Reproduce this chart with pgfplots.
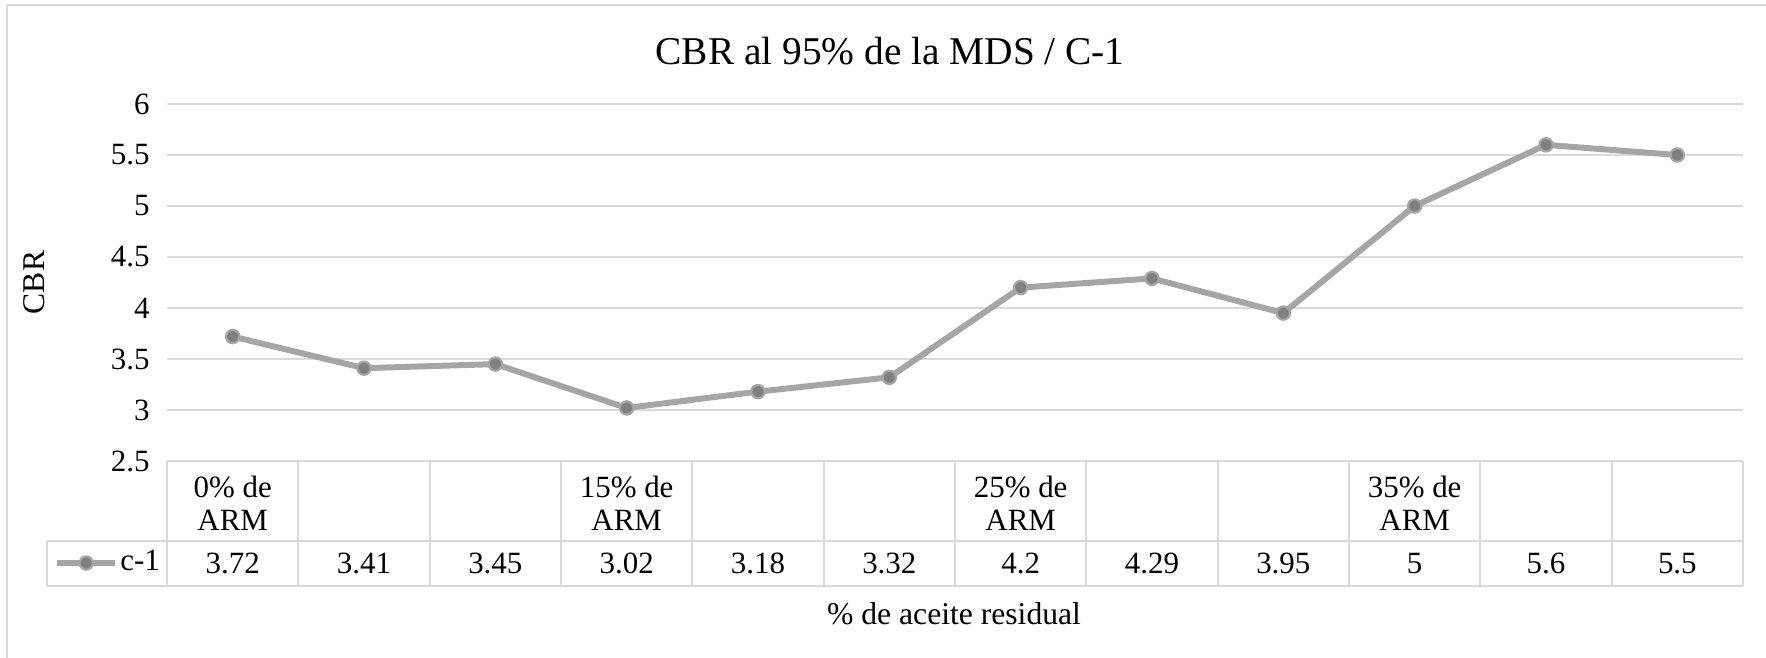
\documentclass[border=0pt]{standalone}
\usepackage{fontspec}
\setmainfont{Liberation Serif}
\usepackage{pgfplots}
\pgfplotsset{compat=1.18}
\definecolor{linegray}{HTML}{A5A5A5}
\definecolor{markgray}{HTML}{808080}
\definecolor{gridgray}{HTML}{D9D9D9}
\begin{document}
\begin{tikzpicture}[x=1mm,y=1mm]
\useasboundingbox (-16.7,-19.7) rectangle (159.9,46.1);
\draw[gridgray, line width=0.6pt] (-16.0,-19.7) -- (-16.0,45.6) -- (159.9,45.6);
\begin{axis}[
  at={(0,0)}, anchor=south west,
  scale only axis, width=157.6mm, height=35.7mm,
  xmin=-0.5, xmax=11.5, ymin=2.5, ymax=6,
  ytick={2.5,3,3.5,4,4.5,5,5.5,6},
  xtick=\empty,
  ymajorgrids, grid style={gridgray, line width=0.6pt},
  axis line style={draw=none},
  major tick length=0pt,
  clip=false,
  yticklabel style={font=\fontsize{8.8}{10}\selectfont, /pgf/number format/assume math mode=true, xshift=-0.5mm},
  ylabel={CBR},
  ylabel style={at={(axis description cs:-0.0844,0.5)}, anchor=center, font=\fontsize{9}{10}\selectfont},
  xlabel={\% de aceite residual},
  xlabel style={at={(axis description cs:0.4994,-0.4286)}, anchor=center, font=\fontsize{9}{10}\selectfont},
  title={CBR al 95\% de la MDS / C-1},
  every axis title shift=0pt,
  title style={at={(axis description cs:0.4588,1.1485)}, anchor=center, yshift=0pt, font=\fontsize{11.2}{12}\selectfont},
  legend style={at={(axis description cs:-0.0720,-0.2857)}, anchor=west, draw=none, fill=none, font=\fontsize{8.8}{10}\selectfont, inner sep=0pt, nodes={inner sep=0.6pt}},
  legend image code/.code={\draw[mark repeat=2,mark phase=2,#1] plot coordinates {(0cm,0cm) (0.29cm,0cm) (0.58cm,0cm)};},
]
\addplot[color=linegray, line width=1.7pt, mark=*, mark size=1.9pt, mark options={fill=markgray, draw=linegray, line width=0.6pt}]
  coordinates {(0,3.72) (1,3.41) (2,3.45) (3,3.02) (4,3.18) (5,3.32) (6,4.2) (7,4.29) (8,3.95) (9,5) (10,5.6) (11,5.5)};
\addlegendentry{c-1}
\end{axis}
% data table grid
\foreach \k in {0,...,12} {
  \draw[gridgray, line width=0.6pt] ({\k*13.1333},0) -- ({\k*13.1333},-12.5);
}
\draw[gridgray, line width=0.6pt] (-12.0,-8.0) -- (157.6,-8.0);
\draw[gridgray, line width=0.6pt] (-12.0,-12.5) -- (157.6,-12.5);
\draw[gridgray, line width=0.6pt] (-12.0,-8.0) -- (-12.0,-12.5);
% category labels
\begin{scope}[every node/.style={font=\fontsize{8.8}{9.4}\selectfont, align=center}]
\node at ({0.5*13.1333},-4.2) {0\% de\\ARM};
\node at ({3.5*13.1333},-4.2) {15\% de\\ARM};
\node at ({6.5*13.1333},-4.2) {25\% de\\ARM};
\node at ({9.5*13.1333},-4.2) {35\% de\\ARM};
\foreach \v [count=\i from 0] in {3.72,3.41,3.45,3.02,3.18,3.32,4.2,4.29,3.95,5,5.6,5.5} {
  \node at ({(\i+0.5)*13.1333},-10.25) {\v};
}
\end{scope}
\end{tikzpicture}
\end{document}
